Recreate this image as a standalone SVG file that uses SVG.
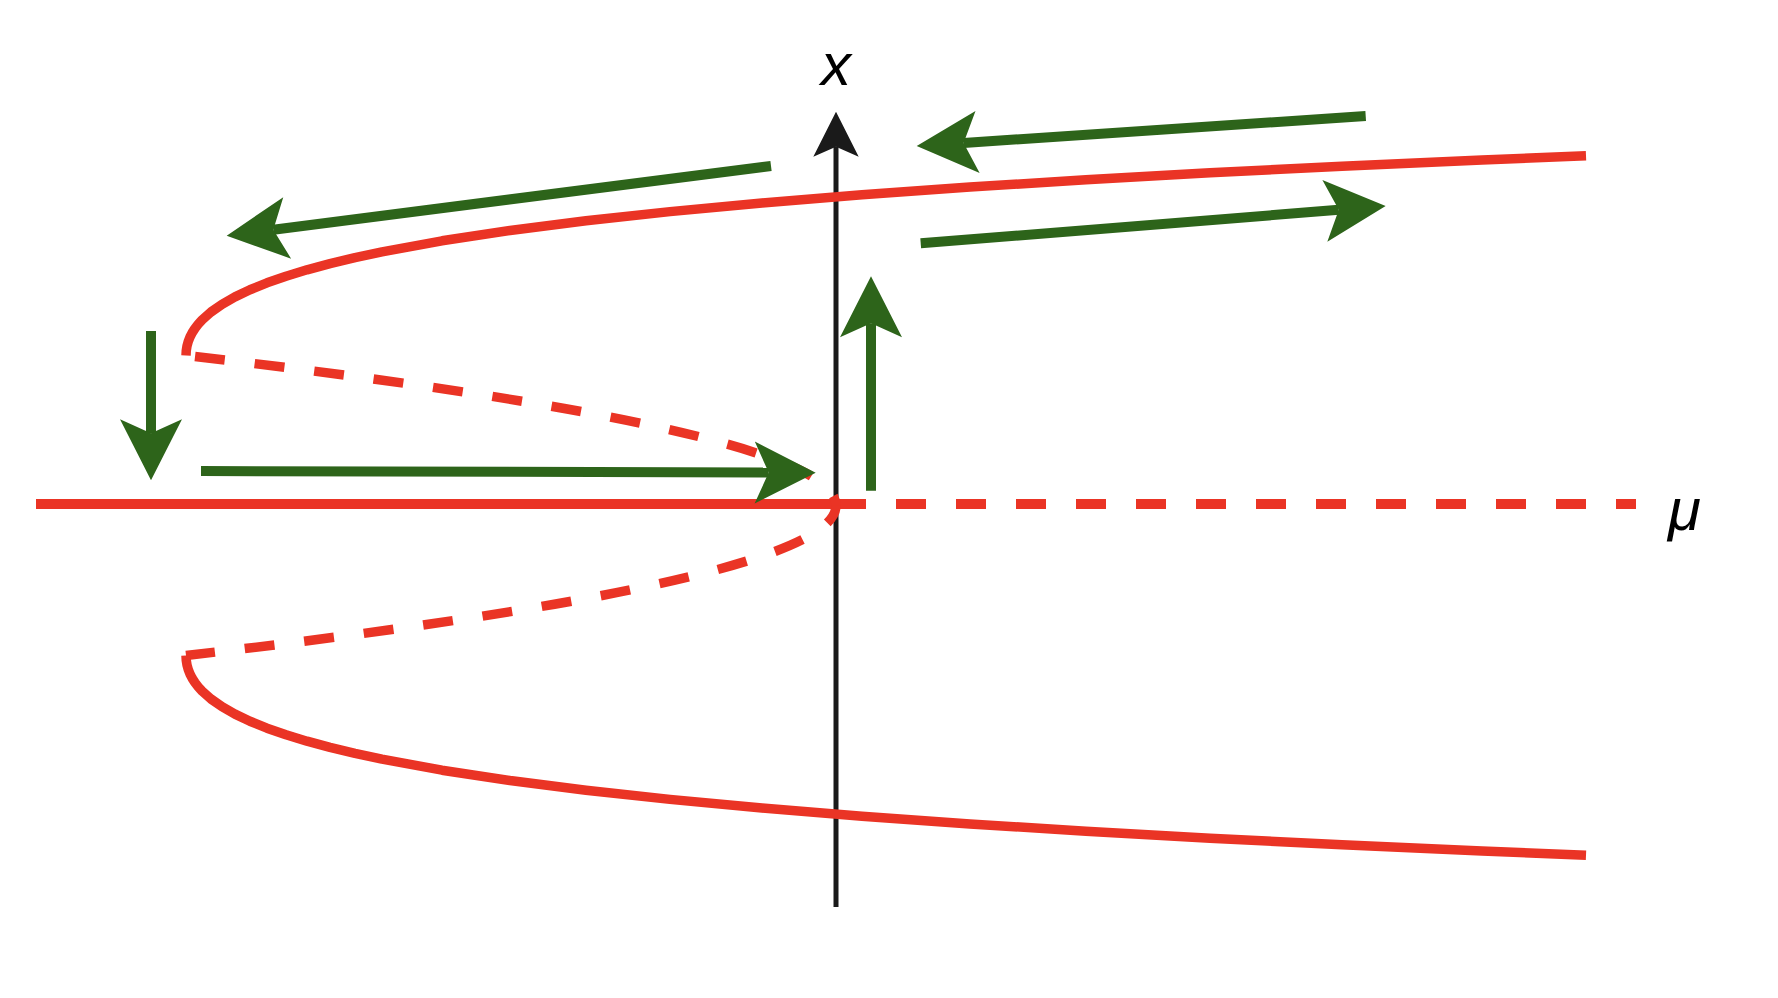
<svg xmlns="http://www.w3.org/2000/svg" width="1778" height="998" viewBox="0 0 1778 998">
<style>
.red{fill:none;stroke:#ea3425;stroke-width:9.5;stroke-linejoin:round}
.axisline{fill:none;stroke:#1a1a1a;stroke-width:5}
.flow{fill:none;stroke:#2d641a;stroke-width:10}
.lbl{font-family:"Liberation Sans",Arial,sans-serif;font-style:italic;font-size:60px;fill:#000}
</style>
<defs>
<marker id="ga" viewBox="-15 -32 63 64" markerWidth="63" markerHeight="64" refX="0" refY="0" orient="auto" markerUnits="userSpaceOnUse">
<path d="M47,0 L-14,-31 L0,0 L-14,31 Z" fill="#2d641a"/>
</marker>
<marker id="ka" viewBox="-11 -24 47 48" markerWidth="47" markerHeight="48" refX="0" refY="0" orient="auto" markerUnits="userSpaceOnUse">
<path d="M35,0 L-10,-22.7 L0,0 L-10,22.7 Z" fill="#1a1a1a"/>
</marker>
</defs>
<rect width="1778" height="998" fill="#fff"/>
<g id="axis-x">
<path class="axisline" d="M836,907 L836,146.7" marker-end="url(#ka)"/>
<text class="lbl" x="836" y="85" text-anchor="middle">x</text>
</g>
<g id="axis-mu">
<text class="lbl" x="1668" y="530">μ</text>
</g>
<g id="branches">
<path id="zero-stable" class="red" style="stroke-width:10" d="M36,504 L836,504"/>
<path id="zero-unstable" class="red" style="stroke-width:10" stroke-dasharray="30 30" d="M836,504 L1636,504"/>
<path id="upper-unstable" class="red" stroke-dasharray="30 30" stroke-dashoffset="20" d="M836,505.5 Q836,430.5 186,355.5"/>
<path id="lower-unstable" class="red" stroke-dasharray="30 30" stroke-dashoffset="10" d="M836,505.5 Q836,580.5 186,655.5"/>
<path id="upper-stable" class="red" d="M186,355.5 L186.25,350.73 L187,346.07 L188.25,341.5 L190,337.02 L192.25,332.64 L195,328.35 L198.25,324.14 L202,320.01 L211,312 L222,304.3 L235,296.88 L250,289.73 L267,282.84 L286,276.2 L307,269.79 L330,263.59 L355,257.61 L382,251.82 L442,240.8 L510,230.46 L586,220.74 L670,211.6 L762,202.97 L862,194.81 L970,187.1 L1086,179.79 L1210,172.85 L1342,166.25 L1482,159.98 L1586,155.7"/>
<path id="lower-stable" class="red" d="M186,655.5 L186.25,660.27 L187,664.93 L188.25,669.5 L190,673.98 L192.25,678.36 L195,682.65 L198.25,686.86 L202,690.99 L211,699 L222,706.7 L235,714.12 L250,721.27 L267,728.16 L286,734.8 L307,741.21 L330,747.41 L355,753.39 L382,759.18 L442,770.2 L510,780.54 L586,790.26 L670,799.4 L762,808.03 L862,816.19 L970,823.9 L1086,831.21 L1210,838.15 L1342,844.75 L1482,851.02 L1586,855.3"/>
</g>
<g id="connectors">
<path id="flow-upper-left" class="flow" d="M771,166 L273.3,229.7" marker-end="url(#ga)"/>
<path id="flow-top-right" class="flow" d="M1365.7,116 L963.6,142.9" marker-end="url(#ga)"/>
<path id="flow-right" class="flow" d="M920.7,243.3 L1338.8,209.8" marker-end="url(#ga)"/>
<path id="flow-down" class="flow" d="M151,331 L151,433.3" marker-end="url(#ga)"/>
<path id="flow-horizontal" class="flow" d="M201,471 L768.7,472.6" marker-end="url(#ga)"/>
<path id="flow-up" class="flow" d="M871,490.7 L871,323.3" marker-end="url(#ga)"/>
</g>
</svg>
